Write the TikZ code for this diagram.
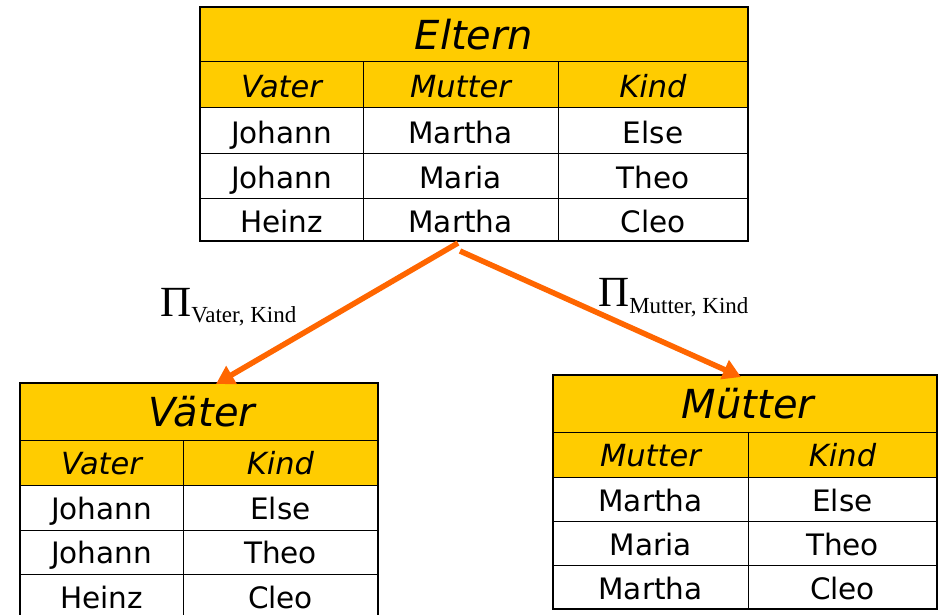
\documentclass[tikz,border=0pt]{standalone}
\usepackage{fontspec}
\setmainfont{DejaVu Sans}
\newfontfamily\piserif{Liberation Serif}
\usetikzlibrary{arrows.meta}
\definecolor{gold}{RGB}{255,204,0}
\definecolor{arrorange}{RGB}{255,102,0}
\begin{document}
\begin{tikzpicture}[x=1pt,y=-1pt,
  titletxt/.style={anchor=base,inner sep=0pt,font=\fontsize{40}{40}\selectfont\itshape},
  headtxt/.style={anchor=base,inner sep=0pt,font=\fontsize{30.5}{30.5}\selectfont\itshape},
  celltxt/.style={anchor=base,inner sep=0pt,font=\fontsize{29.5}{29.5}\selectfont},
  innerline/.style={line width=1pt},
  outerline/.style={line width=2.5pt},
  proj/.style={draw=arrorange,line width=5.5pt,-{Triangle[length=18pt,width=20pt]}},
  lbl/.style={anchor=base west,inner sep=0pt}]
\useasboundingbox (0,0) rectangle (942,615);
\fill[white] (0,0) rectangle (942,615);

% ---------- Eltern ----------
\fill[gold] (200,7) rectangle (748,108);
\draw[innerline] (200,62) -- (748,62) (200,108) -- (748,108) (200,153) -- (748,153) (200,198) -- (748,198);
\draw[innerline] (363,62) -- (363,241) (558,62) -- (558,241);
\draw[outerline] (200,7) rectangle (748,241);
\node[titletxt] (eT) at (474,50) {Eltern};
\node[headtxt] (eH1) at (281.5,98) {Vater};
\node[headtxt] (eH2) at (460.5,98) {Mutter};
\node[headtxt] (eH3) at (653,98) {Kind};
\node[celltxt] (e11) at (281.5,143) {Johann};
\node[celltxt] (e12) at (460.5,143) {Martha};
\node[celltxt] (e13) at (653,143) {Else};
\node[celltxt] (e21) at (281.5,188) {Johann};
\node[celltxt] (e22) at (460.5,188) {Maria};
\node[celltxt] (e23) at (653,188) {Theo};
\node[celltxt] (e31) at (281.5,232) {Heinz};
\node[celltxt] (e32) at (460.5,232) {Martha};
\node[celltxt] (e33) at (653,232) {Cleo};

% ---------- Vaeter ----------
\fill[gold] (20,383) rectangle (378,485);
\draw[innerline] (20,440) -- (378,440) (20,485) -- (378,485) (20,530) -- (378,530) (20,574) -- (378,574);
\draw[innerline] (183,440) -- (183,620);
\draw[outerline] (20,383) rectangle (378,621);
\node[titletxt] (vT) at (202,426) {Väter};
\node[headtxt] (vH1) at (101.5,474) {Vater};
\node[headtxt] (vH2) at (280.5,474) {Kind};
\node[celltxt] (v11) at (101.5,519) {Johann};
\node[celltxt] (v12) at (280.5,519) {Else};
\node[celltxt] (v21) at (101.5,563) {Johann};
\node[celltxt] (v22) at (280.5,563) {Theo};
\node[celltxt] (v31) at (101.5,608) {Heinz};
\node[celltxt] (v32) at (280.5,608) {Cleo};

% ---------- Muetter ----------
\fill[gold] (553,375) rectangle (937,477);
\draw[innerline] (553,432) -- (937,432) (553,477) -- (937,477) (553,521) -- (937,521) (553,565) -- (937,565);
\draw[innerline] (748,432) -- (748,609);
\draw[outerline] (553,375) rectangle (937,609);
\node[titletxt] (mT) at (748,418) {Mütter};
\node[headtxt] (mH1) at (650.5,466) {Mutter};
\node[headtxt] (mH2) at (842.5,466) {Kind};
\node[celltxt] (m11) at (650.5,511) {Martha};
\node[celltxt] (m12) at (842.5,511) {Else};
\node[celltxt] (m21) at (650.5,555) {Maria};
\node[celltxt] (m22) at (842.5,555) {Theo};
\node[celltxt] (m31) at (650.5,599) {Martha};
\node[celltxt] (m32) at (842.5,599) {Cleo};

% ---------- projections ----------
\coordinate (srcL) at (458,243);
\coordinate (srcR) at (460,251);
\coordinate (tipL) at (216,384);
\coordinate (tipR) at (741,377);
\draw[proj] (srcL) -- (tipL);
\draw[proj] (srcR) -- (tipR);

\node[lbl] (pL) at (160,316) {\piserif\fontsize{43}{43}\selectfont Π\fontsize{23}{23}\selectfont\raisebox{-6pt}{Vater, Kind}};
\node[lbl] (pR) at (598,306) {\piserif\fontsize{43}{43}\selectfont Π\fontsize{23}{23}\selectfont\raisebox{-7pt}{Mutter, Kind}};
\end{tikzpicture}
\end{document}
